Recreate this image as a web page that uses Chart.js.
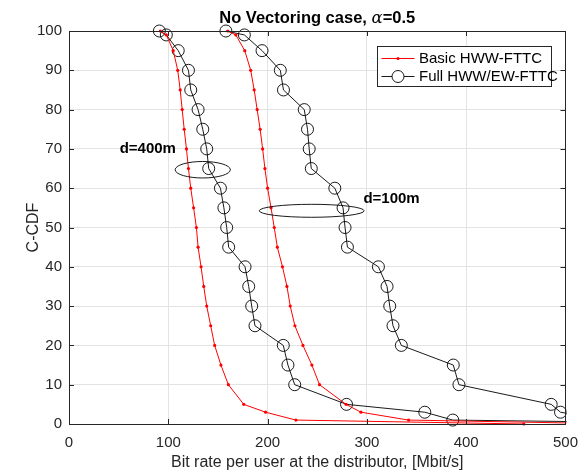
<!DOCTYPE html>
<html>
<head>
<meta charset="utf-8">
<script src="https://cdn.jsdelivr.net/npm/chart.js@4/dist/chart.umd.min.js"></script>
<style>
  html, body { margin: 0; padding: 0; background: #ffffff; }
  #wrap { width: 588px; height: 470px; position: relative; }
</style>
</head>
<body>
<div id="wrap"><canvas id="cdf" width="588" height="470"></canvas></div>
<script>
// C-CDF levels (%) shared by every curve
const cdfLevels = [100, 99, 95, 90, 85, 80, 75, 70, 65, 60, 55, 50, 45, 40, 35, 30, 25, 20, 15, 10, 5, 3, 1, 0];

// Bit rate per user (Mbit/s) at each C-CDF level
const basic400 = [92, 98, 105, 109.5, 112, 114, 116, 118.3, 120.3, 122.6, 125.5, 128.3, 130, 133, 135.7, 138.7, 142.7, 146.7, 153, 160.5, 176, 198, 228.5, 458];
const basic100 = [160, 168, 177, 183, 186.5, 189.5, 192.5, 195, 197.3, 200, 203.5, 206.7, 209.8, 215, 219.5, 222.8, 227.5, 235.6, 244.6, 252.3, 279, 294, 342, 560];
const full400  = [91, 98, 110, 120.3, 122.6, 130, 134.7, 138.7, 140.7, 152.5, 156, 158.8, 160.8, 177.3, 181, 184, 187.3, 215.8, 220.5, 227.3, 279.5, 358.3, 386.5, 700];
const full100  = [158, 176.6, 194.4, 212.8, 216, 236.9, 240.2, 241.9, 244, 267.7, 276, 278, 280.4, 311.6, 320.3, 323, 326.3, 334.7, 387, 392.7, 485.6, 495, 540, 620];

const seriesNames = ['Basic HWW-FTTC', 'Full HWW/EW-FTTC'];
const xTicks = [0, 100, 200, 300, 400, 500];
const yTicks = [0, 10, 20, 30, 40, 50, 60, 70, 80, 90, 100];

const titleParts = ['No Vectoring case, ', '\u03B1', '=0.5'];
const xTitle = 'Bit rate per user at the distributor, [Mbit/s]';
const yTitle = 'C-CDF';

// distance groups marked on the plot
const groupLabels = ['d=400m', 'd=100m'];

const FONT = '"Liberation Sans", Arial, Helvetica, sans-serif';
const AXIS_COL = '#262626';
const GRID_COL = '#e3e3e3';

function pts(rates) {
  return rates.map((r, i) => ({ x: r, y: cdfLevels[i] }));
}

const redStyle = {
  borderColor: '#ff0000', backgroundColor: '#ff0000', borderWidth: 1,
  pointRadius: 1.6, pointHoverRadius: 1.6, pointBorderWidth: 0, pointStyle: 'circle'
};
const blackStyle = {
  borderColor: '#000000', backgroundColor: 'rgba(0,0,0,0)', borderWidth: 0.9,
  pointRadius: 6, pointHoverRadius: 6, pointBorderWidth: 0.9, pointBorderColor: '#000000', pointStyle: 'circle'
};
const clip = { left: 8, top: 8, right: 1, bottom: 8 };

const datasets = [
  Object.assign({ label: seriesNames[0], data: pts(basic400), showLine: true, clip }, redStyle),
  Object.assign({ label: seriesNames[0], data: pts(basic100), showLine: true, clip }, redStyle),
  Object.assign({ label: seriesNames[1], data: pts(full400), showLine: true, clip }, blackStyle),
  Object.assign({ label: seriesNames[1], data: pts(full100), showLine: true, clip }, blackStyle)
];

// box, inward tick marks, title, axis titles, ellipses, labels and legend
const decor = {
  id: 'decor',
  afterDatasetsDraw(chart) {
    const { ctx, chartArea: a, scales: { x, y } } = chart;
    ctx.save();

    // ellipses around each distance group (data-space centre and radii)
    const ellipses = [
      { cx: 134.7, cy: 64.7, rx: 27.8, ry: 2.1 },
      { cx: 244.4, cy: 54.25, rx: 52.8, ry: 1.65 }
    ];
    ctx.strokeStyle = '#000';
    ctx.lineWidth = 0.9;
    ellipses.forEach(e => {
      const px = x.getPixelForValue(e.cx), py = y.getPixelForValue(e.cy);
      const rpx = x.getPixelForValue(e.cx + e.rx) - px;
      const rpy = py - y.getPixelForValue(e.cy + e.ry);
      ctx.beginPath();
      ctx.ellipse(px, py, rpx, rpy, 0, 0, Math.PI * 2);
      ctx.stroke();
    });

    // group labels
    ctx.fillStyle = '#000';
    ctx.font = 'bold 15px ' + FONT;
    ctx.textAlign = 'left';
    ctx.textBaseline = 'middle';
    ctx.fillText(groupLabels[0], x.getPixelForValue(51), y.getPixelForValue(69.9));
    ctx.fillText(groupLabels[1], x.getPixelForValue(296.5), y.getPixelForValue(57.4));

    // axes box
    ctx.strokeStyle = AXIS_COL;
    ctx.lineWidth = 1;
    ctx.strokeRect(Math.round(a.left) + 0.5, Math.round(a.top) + 0.5,
                   Math.round(a.right - a.left), Math.round(a.bottom - a.top));

    // inward tick marks on all four sides
    const tl = 5;
    ctx.beginPath();
    xTicks.forEach(v => {
      const p = Math.round(x.getPixelForValue(v)) + 0.5;
      ctx.moveTo(p, a.bottom); ctx.lineTo(p, a.bottom - tl);
      ctx.moveTo(p, a.top); ctx.lineTo(p, a.top + tl);
    });
    yTicks.forEach(v => {
      const p = Math.round(y.getPixelForValue(v)) + 0.5;
      ctx.moveTo(a.left, p); ctx.lineTo(a.left + tl, p);
      ctx.moveTo(a.right, p); ctx.lineTo(a.right - tl, p);
    });
    ctx.stroke();

    // title
    const cxT = (a.left + a.right) / 2;
    const boldF = 'bold 16.5px ' + FONT;
    const itF = 'italic 16.5px "DejaVu Serif", "Liberation Serif", serif';
    ctx.font = boldF; const w0 = ctx.measureText(titleParts[0]).width;
    const w2 = ctx.measureText(titleParts[2]).width;
    ctx.font = itF; const w1 = ctx.measureText(titleParts[1]).width;
    let tx = cxT - (w0 + w1 + w2) / 2;
    const ty = 23;
    ctx.textAlign = 'left';
    ctx.textBaseline = 'alphabetic';
    ctx.fillStyle = '#000';
    ctx.font = boldF; ctx.fillText(titleParts[0], tx, ty); tx += w0;
    ctx.font = itF; ctx.fillText(titleParts[1], tx, ty); tx += w1;
    ctx.font = boldF; ctx.fillText(titleParts[2], tx, ty);

    // axis titles
    ctx.fillStyle = AXIS_COL;
    ctx.font = '16px ' + FONT;
    ctx.textAlign = 'center';
    ctx.textBaseline = 'alphabetic';
    ctx.fillText(xTitle, cxT, 467);
    ctx.save();
    ctx.translate(34, (a.top + a.bottom) / 2);
    ctx.rotate(-Math.PI / 2);
    ctx.textBaseline = 'middle';
    ctx.fillText(yTitle, 0, 0);
    ctx.restore();

    // legend box in the upper right of the axes
    const lx = 377.5, ly = 46.5, lw = 174, lh = 40;
    ctx.fillStyle = '#ffffff';
    ctx.fillRect(lx, ly, lw, lh);
    ctx.strokeStyle = AXIS_COL;
    ctx.lineWidth = 1;
    ctx.strokeRect(lx, ly, lw, lh);
    const rows = [ly + 12, ly + 30];
    ctx.font = '15px ' + FONT;
    ctx.textAlign = 'left';
    ctx.textBaseline = 'middle';
    rows.forEach((ry, i) => {
      const st = i === 0 ? redStyle : blackStyle;
      ctx.strokeStyle = st.borderColor;
      ctx.lineWidth = st.borderWidth;
      ctx.beginPath();
      ctx.moveTo(lx + 4, ry); ctx.lineTo(lx + 37, ry);
      ctx.stroke();
      ctx.beginPath();
      ctx.arc(lx + 20.5, ry, st.pointRadius, 0, Math.PI * 2);
      if (i === 0) { ctx.fillStyle = st.backgroundColor; ctx.fill(); }
      else { ctx.fillStyle = '#fff'; ctx.fill(); ctx.strokeStyle = '#000'; ctx.lineWidth = 0.9; ctx.stroke(); }
      ctx.fillStyle = '#000';
      ctx.fillText(seriesNames[i], lx + 41.5, ry + 0.5);
    });

    ctx.restore();
  }
};

new Chart(document.getElementById('cdf'), {
  type: 'scatter',
  data: { datasets },
  options: {
    responsive: false,
    animation: false,
    events: [],
    layout: { padding: { left: 0, right: 21, top: 31, bottom: 0 } },
    plugins: { legend: { display: false }, tooltip: { enabled: false }, title: { display: false } },
    scales: {
      x: {
        type: 'linear', min: 0, max: 500,
        afterBuildTicks: s => { s.ticks = xTicks.map(v => ({ value: v })); },
        afterFit: s => { s.height = 46; },
        grid: { color: GRID_COL, lineWidth: 1, drawTicks: false },
        border: { display: false },
        ticks: { color: AXIS_COL, padding: 10, font: { family: FONT, size: 15 }, maxRotation: 0 }
      },
      y: {
        type: 'linear', min: 0, max: 100,
        afterBuildTicks: s => { s.ticks = yTicks.map(v => ({ value: v })); },
        afterFit: s => { s.width = 69; },
        grid: { color: GRID_COL, lineWidth: 1, drawTicks: false },
        border: { display: false },
        ticks: { color: AXIS_COL, padding: 7, font: { family: FONT, size: 15 } }
      }
    }
  },
  plugins: [decor]
});
</script>
</body>
</html>
